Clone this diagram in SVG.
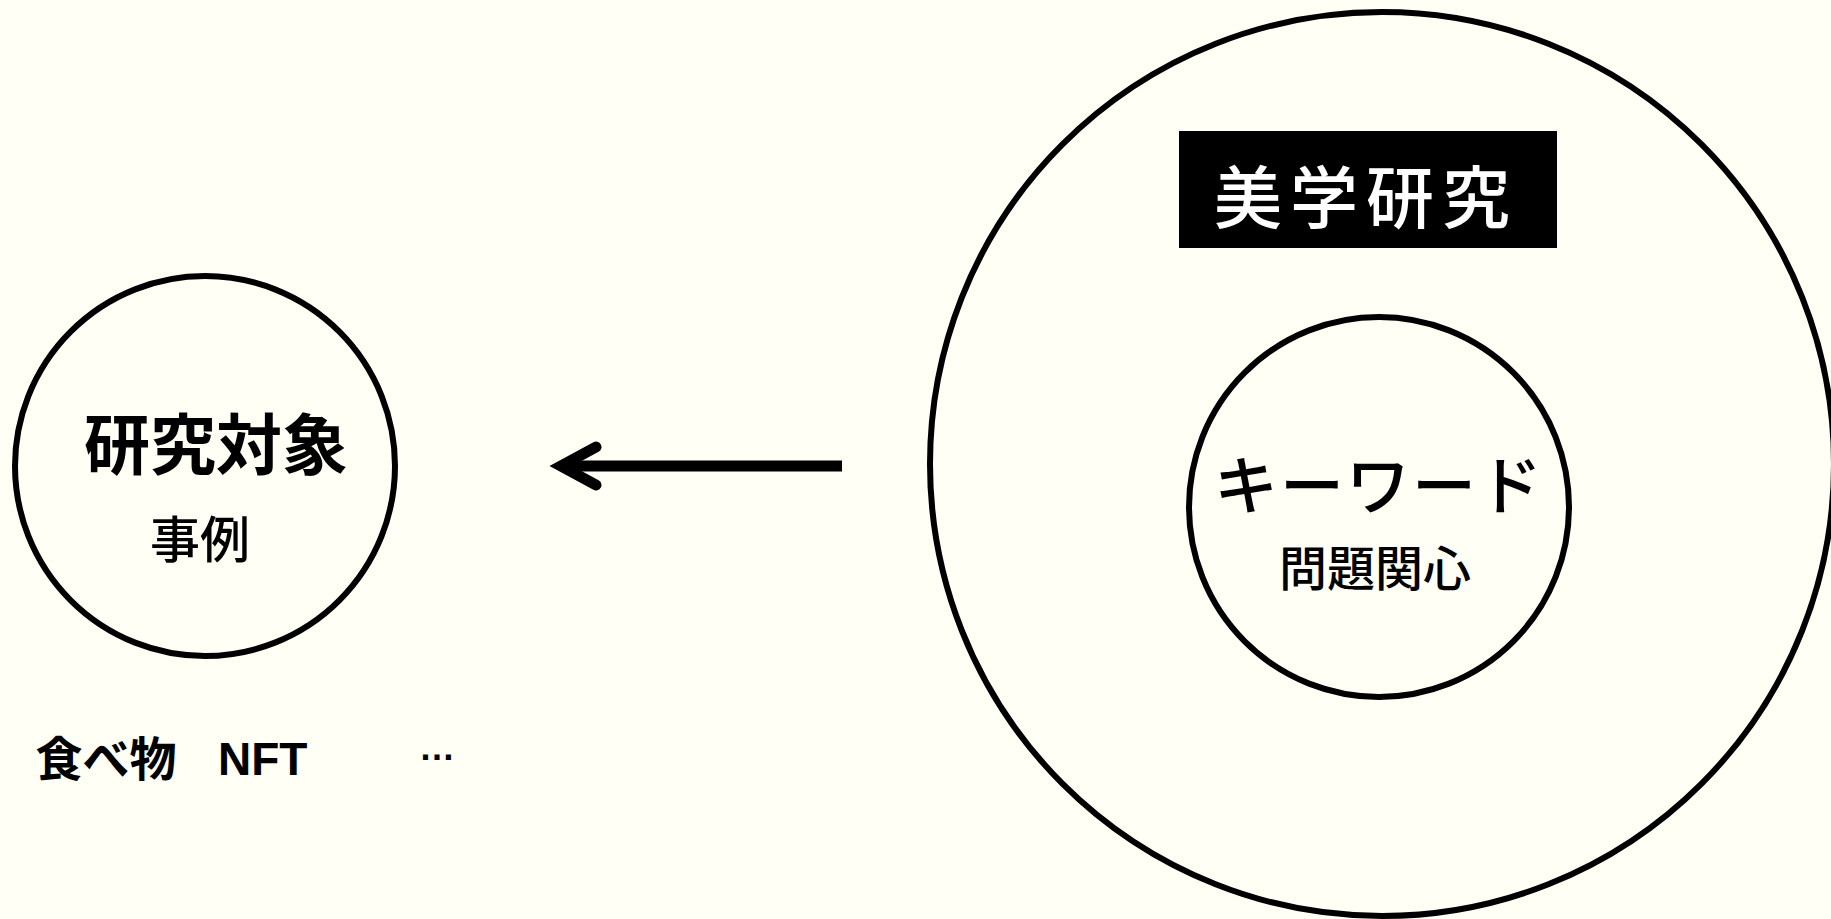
<svg xmlns="http://www.w3.org/2000/svg" width="1831" height="919" viewBox="0 0 1831 919">
<style>
.ring{fill:none;stroke:#000;stroke-width:6}
.jp{font-family:"Noto Sans CJK JP","Noto Sans CJK SC",sans-serif;fill:#000}
.lat{font-family:"Liberation Sans",Arial,sans-serif;fill:#000}
</style>
<rect x="0" y="0" width="1831" height="919" fill="#fffff6"/>
<g id="target">
<circle class="ring" cx="205" cy="466" r="190"/>
<text class="jp" x="216" y="469" font-size="66" font-weight="700" text-anchor="middle">研究対象</text>
<text class="jp" x="200" y="558" font-size="50" font-weight="500" text-anchor="middle">事例</text>
</g>
<g id="examples">
<text class="jp" x="106" y="776" font-size="47" font-weight="700" text-anchor="middle">食べ物</text>
<text class="lat" x="218" y="775" font-size="46" font-weight="700">NFT</text>
<text class="lat" x="437" y="760" font-size="36" font-weight="700" text-anchor="middle">…</text>
</g>
<g id="aesthetics">
<circle class="ring" cx="1382" cy="464" r="452"/>
<rect x="1179" y="131" width="378" height="117" fill="#000"/>
<text class="jp" x="1214" y="223" font-size="68" font-weight="500" letter-spacing="8" style="fill:#fff">美学研究</text>
</g>
<g id="keyword">
<circle class="ring" cx="1379" cy="507" r="190"/>
<text class="jp" x="1379" y="509" font-size="64" font-weight="500" letter-spacing="2" text-anchor="middle">キーワード</text>
<text class="jp" x="1375" y="586" font-size="48" font-weight="500" text-anchor="middle">問題関心</text>
</g>
<g id="connectors">
<line x1="842" y1="466" x2="562" y2="466" stroke="#000" stroke-width="11"/>
<polyline points="596,447 561,466 596,485" fill="none" stroke="#000" stroke-width="11" stroke-linecap="round" stroke-linejoin="miter"/>
</g>
</svg>
